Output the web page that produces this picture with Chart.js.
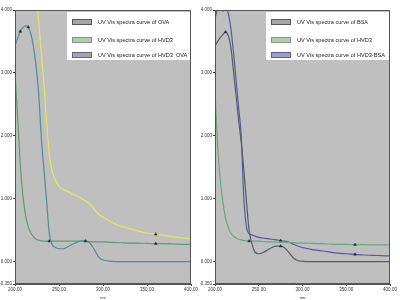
<!DOCTYPE html>
<html>
<head>
<meta charset="utf-8">
<script src="https://cdn.jsdelivr.net/npm/chart.js@4.4.1/dist/chart.umd.min.js"></script>
<style>
  html, body { margin: 0; padding: 0; background: #ffffff; }
  #wrap { position: relative; width: 400px; height: 300px; }
  .panel { position: absolute; top: 0; width: 200px; height: 300px; }
</style>
</head>
<body>
<div id="wrap">
  <div class="panel" style="left:0"><canvas id="leftChart" width="200" height="300"></canvas></div>
  <div class="panel" style="left:200px"><canvas id="rightChart" width="200" height="300"></canvas></div>
</div>
<script>
// ─── Data (wavelength in nm, absorbance) ────────────────────────────────────
const wavelengths = [200, 203, 206, 209, 212, 215, 218, 221, 224, 227, 230, 233, 236, 239, 242, 246, 250, 255, 260, 265,
                     270, 275, 280, 285, 290, 295, 300, 310, 320, 330, 340, 350, 360, 370, 380, 390, 400];

// left panel
const ovaValues = [3.43, 3.55, 3.66, 3.72, 3.75, 3.73, 3.62, 3.42, 3.10, 2.65, 1.95, 1.45, 0.95, 0.45, 0.28, 0.23, 0.21, 0.21, 0.24, 0.28,
                   0.31, 0.33, 0.33, 0.30, 0.20, 0.08, 0.03, 0.01, 0.005, 0.005, 0.005, 0.005, 0.005, 0.005, 0.005, 0.005, 0.005];
const hvd3LeftValues = [3.00, 2.30, 1.55, 1.05, 0.74, 0.56, 0.46, 0.40, 0.36, 0.345, 0.335, 0.33, 0.33, 0.33, 0.33, 0.33, 0.33, 0.33, 0.33, 0.33,
                        0.33, 0.33, 0.33, 0.325, 0.32, 0.32, 0.32, 0.31, 0.305, 0.30, 0.30, 0.295, 0.29, 0.29, 0.285, 0.28, 0.28];
const hvd3OvaValues = [4.6, 4.6, 4.6, 4.6, 4.6, 4.6, 4.6, 4.55, 4.3, 3.8, 3.3, 2.8, 2.2, 1.7, 1.45, 1.30, 1.20, 1.15, 1.12, 1.08,
                       1.05, 1.01, 0.97, 0.92, 0.84, 0.76, 0.71, 0.63, 0.57, 0.53, 0.49, 0.46, 0.44, 0.42, 0.40, 0.38, 0.37];

// right panel
const bsaValues = [3.43, 3.50, 3.56, 3.61, 3.65, 3.60, 3.42, 3.05, 2.65, 2.25, 1.90, 1.45, 0.95, 0.50, 0.30, 0.15, 0.13, 0.15, 0.19, 0.23,
                   0.25, 0.25, 0.22, 0.14, 0.06, 0.02, 0.01, 0.005, 0.005, 0.005, 0.005, 0.005, 0.005, 0.005, 0.005, 0.005, 0.005];
const hvd3RightValues = [2.70, 1.85, 1.30, 0.95, 0.70, 0.55, 0.46, 0.41, 0.38, 0.36, 0.35, 0.34, 0.34, 0.33, 0.33, 0.33, 0.33, 0.325, 0.32, 0.32,
                         0.315, 0.31, 0.31, 0.31, 0.305, 0.30, 0.30, 0.295, 0.29, 0.285, 0.28, 0.28, 0.275, 0.275, 0.27, 0.27, 0.27];
const hvd3BsaValues = [3.86, 4.02, 4.08, 3.98, 4.05, 3.95, 3.72, 3.35, 2.90, 2.45, 2.00, 1.00, 0.55, 0.45, 0.43, 0.41, 0.39, 0.38, 0.37, 0.36,
                       0.35, 0.34, 0.33, 0.31, 0.28, 0.25, 0.23, 0.20, 0.18, 0.16, 0.14, 0.13, 0.12, 0.11, 0.105, 0.10, 0.095];

// peak-pick marks (wavelengths) per curve
const ovaPeaks       = [206, 215, 280];
const hvd3LeftPeaks  = [239, 360];
const hvd3OvaPeaks   = [360];
const bsaPeaks       = [212, 275];
const hvd3RightPeaks = [239, 360];
const hvd3BsaPeaks   = [206, 275, 360];

const yTickValues = [-0.35, 0, 1, 2, 3, 4];
const xTickStep = 50;

const leftLabels  = ["UV Vis spectra curve of OVA", "UV Vis spectra curve of HVD3", "UV Vis spectra curve of HVD3  OVA"];
const rightLabels = ["UV Vis spectra curve of BSA", "UV Vis spectra curve of HVD3", "UV Vis spectra curve of HVD3-BSA"];

// ─── Styles ─────────────────────────────────────────────────────────────────
const PLOT_BG = "#bfbfbf";
const FONT = "'Liberation Sans', Arial, sans-serif";

function toPoints(values) {
    return wavelengths.map((w, i) => ({ x: w, y: values[i] }));
}

function lineSet(label, values, color, peaks) {
    return {
        label: label,
        data: toPoints(values),
        borderColor: color,
        borderWidth: 1.2,
        pointStyle: "triangle",
        pointRadius: c => (peaks.includes(wavelengths[c.dataIndex]) ? 1.6 : 0),
        pointBackgroundColor: "#2a2a3a",
        pointBorderColor: "#2a2a3a",
        pointBorderWidth: 0.5,
        cubicInterpolationMode: "monotone",
        showLine: true,
        clip: 0,
    };
}

// plot background + frame
const framePlugin = {
    id: "frame",
    beforeDatasetsDraw(chart) {
        const { ctx, chartArea: a } = chart;
        ctx.save();
        ctx.fillStyle = PLOT_BG;
        ctx.fillRect(a.left, a.top, a.right - a.left, a.bottom - a.top);
        ctx.restore();
    },
    afterDatasetsDraw(chart) {
        const { ctx, chartArea: a } = chart;
        ctx.save();
        ctx.strokeStyle = "#555555";
        ctx.lineWidth = 1;
        ctx.strokeRect(a.left + 0.5, a.top + 0.5, a.right - a.left - 1, a.bottom - a.top - 1);
        ctx.restore();
    },
};

// legend box drawn inside the plot, top right
const boxLegendPlugin = {
    id: "boxLegend",
    afterDraw(chart, args, opts) {
        const { ctx, chartArea: a } = chart;
        const x0 = a.right - 124, y0 = a.top + 2, w = 123, h = 48;
        ctx.save();
        ctx.fillStyle = "#ffffff";
        ctx.fillRect(x0, y0, w, h);
        const rows = [10, 28, 43];
        opts.items.forEach((it, i) => {
            const yy = y0 + rows[i];
            ctx.fillStyle = it.fill;
            ctx.fillRect(x0 + 5, yy - 2.5, 20, 5);
            ctx.strokeStyle = it.edge;
            ctx.lineWidth = 1;
            ctx.strokeRect(x0 + 5.5, yy - 2.5, 19, 5);
            ctx.fillStyle = "#222222";
            ctx.font = "5.6px " + FONT;
            ctx.textBaseline = "middle";
            ctx.fillText(it.text, x0 + 31, yy);
        });
        ctx.restore();
    },
};

function makeChart(id, datasets, legendItems, padRight) {
    return new Chart(document.getElementById(id), {
        type: "scatter",
        data: { datasets: datasets },
        plugins: [framePlugin, boxLegendPlugin],
        options: {
            responsive: false,
            animation: false,
            events: [],
            layout: { padding: { top: 10, right: padRight, left: 0, bottom: 0 } },
            plugins: {
                legend: { display: false },
                tooltip: { enabled: false },
                boxLegend: { items: legendItems },
            },
            scales: {
                x: {
                    type: "linear",
                    min: 200,
                    max: 400,
                    ticks: {
                        stepSize: xTickStep,
                        color: "#333333",
                        font: { size: 4.5, family: FONT },
                        padding: 1,
                        maxRotation: 0,
                        callback: v => v.toFixed(2),
                    },
                    grid: { drawOnChartArea: false, drawTicks: true, tickLength: 2, color: "#444444" },
                    border: { display: true, color: "#555555" },
                    title: { display: true, text: "nm", color: "#333333", font: { size: 4, family: FONT }, padding: 0 },
                    afterFit: s => { s.height = 16; },
                },
                y: {
                    min: -0.35,
                    max: 4.0,
                    afterBuildTicks: s => { s.ticks = yTickValues.map(v => ({ value: v })); },
                    ticks: {
                        color: "#333333",
                        font: { size: 4.5, family: FONT },
                        padding: 1,
                        callback: v => v.toFixed(3),
                    },
                    grid: { drawOnChartArea: false, drawTicks: true, tickLength: 2, color: "#444444" },
                    border: { display: true, color: "#555555" },
                    afterFit: s => { s.width = 15; },
                },
            },
        },
    });
}

makeChart("leftChart", [
    lineSet(leftLabels[0], ovaValues, "#4f8c9c", ovaPeaks),
    lineSet(leftLabels[1], hvd3LeftValues, "#5e9b73", hvd3LeftPeaks),
    lineSet(leftLabels[2], hvd3OvaValues, "#e6e65a", hvd3OvaPeaks),
], [
    { text: leftLabels[0], fill: "#a6a6a6", edge: "#555555" },
    { text: leftLabels[1], fill: "#b4c9b4", edge: "#7a9a7a" },
    { text: leftLabels[2], fill: "#a3a3ad", edge: "#66667a" },
], 9);

makeChart("rightChart", [
    lineSet(rightLabels[0], bsaValues, "#565b62", bsaPeaks),
    lineSet(rightLabels[1], hvd3RightValues, "#69a77a", hvd3RightPeaks),
    lineSet(rightLabels[2], hvd3BsaValues, "#5858a8", hvd3BsaPeaks),
], [
    { text: rightLabels[0], fill: "#a6a6a6", edge: "#555555" },
    { text: rightLabels[1], fill: "#b4c9b4", edge: "#7a9a7a" },
    { text: rightLabels[2], fill: "#9e9ebe", edge: "#5a5aa0" },
], 10);
</script>
</body>
</html>
